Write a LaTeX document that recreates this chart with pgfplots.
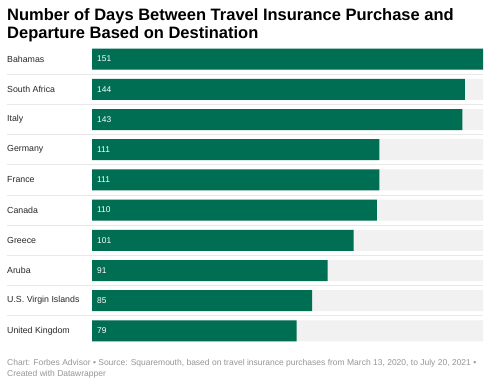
\documentclass[border=0pt]{standalone}
\usepackage{pgfplots}
\pgfplotsset{compat=1.18}
\usepackage{fontspec}
\setmainfont{Liberation Sans}
\definecolor{barg}{RGB}{0,110,83}
\definecolor{bgg}{RGB}{241,241,241}
\definecolor{sep}{RGB}{232,232,232}
\definecolor{foot}{RGB}{150,150,150}
\definecolor{lab}{RGB}{40,40,40}
\begin{document}
\begin{tikzpicture}[x=1pt,y=1pt]
\fill[white] (0,0) rectangle (492,386);
\node[anchor=base west,inner sep=0pt,font=\fontsize{16.5}{18}\selectfont\bfseries] at (7,365) {Number of Days Between Travel Insurance Purchase and};
\node[anchor=base west,inner sep=0pt,font=\fontsize{16.5}{18}\selectfont\bfseries] at (7,347) {Departure Based on Destination};
\begin{axis}[
  at={(92pt,40pt)}, anchor=south west,
  width=391pt, height=302pt, scale only axis,
  xmin=0, xmax=151, ymin=-0.5, ymax=9.5, y dir=reverse,
  axis line style={draw=none}, major tick length=0pt,
  xtick=\empty, ytick={0,...,9},
  yticklabels={Bahamas,South Africa,Italy,Germany,France,Canada,Greece,Aruba,U.S. Virgin Islands,United Kingdom},
  yticklabel style={anchor=west, inner sep=0pt, xshift=-85pt, font=\fontsize{8.8}{10}\selectfont, text=lab},
  clip=false,
]
\foreach \k in {0,...,8} {
  \edef\tmp{\noexpand\draw[sep, line width=0.8pt] ([xshift=-85pt]axis cs:0,\k.5) -- (axis cs:151,\k.5);}
  \tmp
}
\addplot[xbar, bar width=21pt, fill=bgg, draw=none, bar shift=0pt] coordinates {
(151,0) (151,1) (151,2) (151,3) (151,4) (151,5) (151,6) (151,7) (151,8) (151,9)};
\addplot[xbar, bar width=21pt, fill=barg, draw=none, bar shift=0pt] coordinates {
(151,0) (144,1) (143,2) (111,3) (111,4) (110,5) (101,6) (91,7) (85,8) (79,9)};
\addplot[only marks, mark=none, point meta=explicit symbolic,
  nodes near coords, nodes near coords style={anchor=west, inner sep=0pt, xshift=5pt, text=white, font=\fontsize{8.4}{10}\selectfont}]
  coordinates {
(0,0) [151] (0,1) [144] (0,2) [143] (0,3) [111] (0,4) [111] (0,5) [110] (0,6) [101] (0,7) [91] (0,8) [85] (0,9) [79]};
\end{axis}
\node[anchor=base west,inner sep=0pt,text=foot,font=\fontsize{8.5}{10}\selectfont] at (7,21) {Chart: Forbes Advisor • Source: Squaremouth, based on travel insurance purchases from March 13, 2020, to July 20, 2021 •};
\node[anchor=base west,inner sep=0pt,text=foot,font=\fontsize{8.5}{10}\selectfont] at (7,10) {Created with Datawrapper};
\end{tikzpicture}
\end{document}
